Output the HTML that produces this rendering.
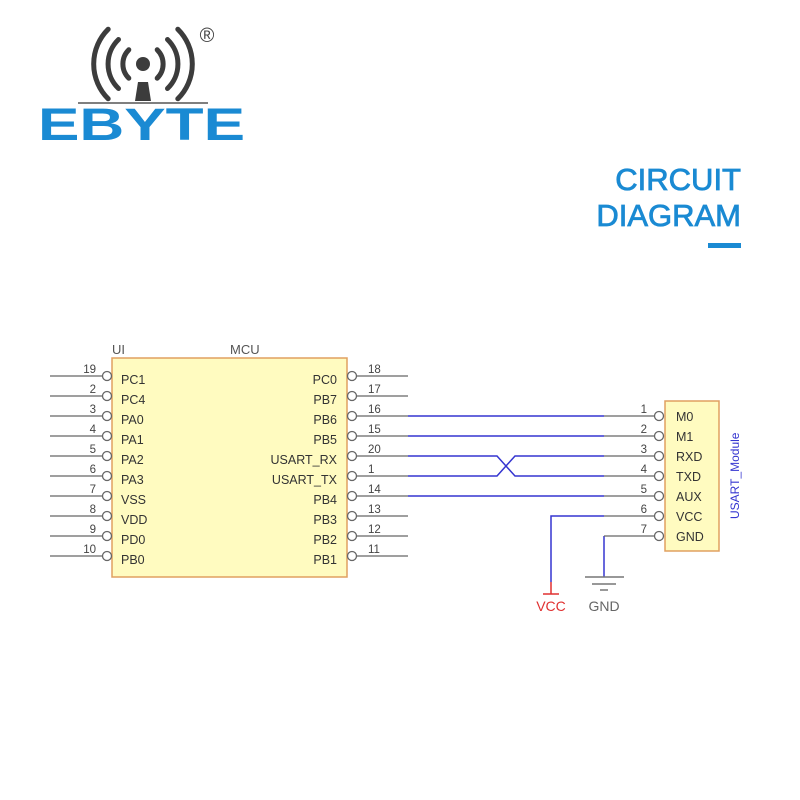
<!DOCTYPE html>
<html><head><meta charset="utf-8"><style>
html,body{margin:0;padding:0;background:#fff;}
svg{display:block;}
</style></head><body>
<svg width="800" height="800" viewBox="0 0 800 800" xmlns="http://www.w3.org/2000/svg" font-family="Liberation Sans, sans-serif">
<!-- Logo -->
<g fill="none" stroke="#3c3c3c" stroke-width="5" stroke-linecap="round">
<path d="M128.8 49.8 A20 20 0 0 0 128.8 78.2"/>
<path d="M157.2 49.8 A20 20 0 0 1 157.2 78.2"/>
<path d="M118.5 39.5 A34 34 0 0 0 118.5 88.5"/>
<path d="M167.5 39.5 A34 34 0 0 1 167.5 88.5"/>
<path d="M108.2 29.2 A49 49 0 0 0 108.2 98.8"/>
<path d="M177.8 29.2 A49 49 0 0 1 177.8 98.8"/>
</g>
<circle cx="143" cy="64" r="7" fill="#3c3c3c"/>
<polygon points="138,82 148,82 151,101 135,101" fill="#3c3c3c"/>
<line x1="78" y1="103" x2="208" y2="103" stroke="#555" stroke-width="1.5"/>
<text x="207" y="42" font-size="20" fill="#444" text-anchor="middle">®</text>
<text x="38" y="140" font-size="45" font-weight="bold" fill="#1a8ad3" textLength="207" lengthAdjust="spacingAndGlyphs">EBYTE</text>
<!-- Title -->
<g fill="#1a8ad3" stroke="#1a8ad3" stroke-width="0.8">
<text x="741" y="190" font-size="31" text-anchor="end">CIRCUIT</text>
<text x="741" y="226" font-size="31" text-anchor="end">DIAGRAM</text>
</g>
<rect x="708" y="243" width="33" height="5" fill="#1a8ad3"/>

<!-- MCU -->
<text x="112" y="354" font-size="13" fill="#555">UI</text>
<text x="230" y="354" font-size="13" fill="#555">MCU</text>
<rect x="112" y="358" width="235" height="219" fill="#fffbc0" stroke="#e0a060" stroke-width="1.5"/>
<g font-size="12" fill="#333">
<g stroke="#666" stroke-width="1.3">
<line x1="50" y1="376" x2="102" y2="376"/><line x1="50" y1="396" x2="102" y2="396"/>
<line x1="50" y1="416" x2="102" y2="416"/><line x1="50" y1="436" x2="102" y2="436"/>
<line x1="50" y1="456" x2="102" y2="456"/><line x1="50" y1="476" x2="102" y2="476"/>
<line x1="50" y1="496" x2="102" y2="496"/><line x1="50" y1="516" x2="102" y2="516"/>
<line x1="50" y1="536" x2="102" y2="536"/><line x1="50" y1="556" x2="102" y2="556"/>
<line x1="357" y1="376" x2="408" y2="376"/><line x1="357" y1="396" x2="408" y2="396"/>
<line x1="357" y1="416" x2="408" y2="416"/><line x1="357" y1="436" x2="408" y2="436"/>
<line x1="357" y1="456" x2="408" y2="456"/><line x1="357" y1="476" x2="408" y2="476"/>
<line x1="357" y1="496" x2="408" y2="496"/><line x1="357" y1="516" x2="408" y2="516"/>
<line x1="357" y1="536" x2="408" y2="536"/><line x1="357" y1="556" x2="408" y2="556"/>
</g>
<g stroke="#666" stroke-width="1.3" fill="#fff">
<circle cx="107" cy="376" r="4.5"/><circle cx="107" cy="396" r="4.5"/><circle cx="107" cy="416" r="4.5"/><circle cx="107" cy="436" r="4.5"/><circle cx="107" cy="456" r="4.5"/><circle cx="107" cy="476" r="4.5"/><circle cx="107" cy="496" r="4.5"/><circle cx="107" cy="516" r="4.5"/><circle cx="107" cy="536" r="4.5"/><circle cx="107" cy="556" r="4.5"/>
<circle cx="352" cy="376" r="4.5"/><circle cx="352" cy="396" r="4.5"/><circle cx="352" cy="416" r="4.5"/><circle cx="352" cy="436" r="4.5"/><circle cx="352" cy="456" r="4.5"/><circle cx="352" cy="476" r="4.5"/><circle cx="352" cy="496" r="4.5"/><circle cx="352" cy="516" r="4.5"/><circle cx="352" cy="536" r="4.5"/><circle cx="352" cy="556" r="4.5"/>
</g>
<g text-anchor="end" fill="#444" font-size="11.5">
<text x="96" y="373">19</text><text x="96" y="393">2</text><text x="96" y="413">3</text><text x="96" y="433">4</text><text x="96" y="453">5</text><text x="96" y="473">6</text><text x="96" y="493">7</text><text x="96" y="513">8</text><text x="96" y="533">9</text><text x="96" y="553">10</text>
</g>
<g fill="#444" font-size="11.5">
<text x="368" y="373">18</text><text x="368" y="393">17</text><text x="368" y="413">16</text><text x="368" y="433">15</text><text x="368" y="453">20</text><text x="368" y="473">1</text><text x="368" y="493">14</text><text x="368" y="513">13</text><text x="368" y="533">12</text><text x="368" y="553">11</text>
</g>
<g fill="#333" font-size="12.5">
<text x="121" y="384">PC1</text><text x="121" y="404">PC4</text><text x="121" y="424">PA0</text><text x="121" y="444">PA1</text><text x="121" y="464">PA2</text><text x="121" y="484">PA3</text><text x="121" y="504">VSS</text><text x="121" y="524">VDD</text><text x="121" y="544">PD0</text><text x="121" y="564">PB0</text>
</g>
<g fill="#333" font-size="12.5" text-anchor="end">
<text x="337" y="384">PC0</text><text x="337" y="404">PB7</text><text x="337" y="424">PB6</text><text x="337" y="444">PB5</text><text x="337" y="464">USART_RX</text><text x="337" y="484">USART_TX</text><text x="337" y="504">PB4</text><text x="337" y="524">PB3</text><text x="337" y="544">PB2</text><text x="337" y="564">PB1</text>
</g>
</g>

<!-- Blue nets -->
<g stroke="#3535d0" stroke-width="1.5" fill="none">
<line x1="408" y1="416" x2="604" y2="416"/>
<line x1="408" y1="436" x2="604" y2="436"/>
<polyline points="408,456 497,456 515,476 604,476"/>
<polyline points="408,476 497,476 515,456 604,456"/>
<line x1="408" y1="496" x2="604" y2="496"/>
<polyline points="604,516 551,516 551,582"/>
<line x1="604" y1="536" x2="604" y2="577"/>
</g>
<g stroke="#e03030" stroke-width="1.5">
<line x1="551" y1="582" x2="551" y2="594"/>
<line x1="543" y1="594" x2="559" y2="594"/>
</g>
<g stroke="#777" stroke-width="1.5">
<line x1="585" y1="577" x2="624" y2="577"/>
<line x1="592" y1="584" x2="616" y2="584"/>
<line x1="600" y1="590" x2="608" y2="590"/>
</g>
<text x="551" y="611" font-size="14" fill="#e03030" text-anchor="middle">VCC</text>
<text x="604" y="611" font-size="14" fill="#666" text-anchor="middle">GND</text>

<!-- Module -->
<rect x="665" y="401" width="54" height="150" fill="#fffbc0" stroke="#e0a060" stroke-width="1.5"/>
<g stroke="#666" stroke-width="1.3">
<line x1="604" y1="416" x2="654" y2="416"/><line x1="604" y1="436" x2="654" y2="436"/><line x1="604" y1="456" x2="654" y2="456"/><line x1="604" y1="476" x2="654" y2="476"/><line x1="604" y1="496" x2="654" y2="496"/><line x1="604" y1="516" x2="654" y2="516"/><line x1="604" y1="536" x2="654" y2="536"/>
</g>
<g stroke="#666" stroke-width="1.3" fill="#fff">
<circle cx="659" cy="416" r="4.5"/><circle cx="659" cy="436" r="4.5"/><circle cx="659" cy="456" r="4.5"/><circle cx="659" cy="476" r="4.5"/><circle cx="659" cy="496" r="4.5"/><circle cx="659" cy="516" r="4.5"/><circle cx="659" cy="536" r="4.5"/>
</g>
<g fill="#444" font-size="11.5" text-anchor="end">
<text x="647" y="413">1</text><text x="647" y="433">2</text><text x="647" y="453">3</text><text x="647" y="473">4</text><text x="647" y="493">5</text><text x="647" y="513">6</text><text x="647" y="533">7</text>
</g>
<g fill="#333" font-size="12.5">
<text x="676" y="421">M0</text><text x="676" y="441">M1</text><text x="676" y="461">RXD</text><text x="676" y="481">TXD</text><text x="676" y="501">AUX</text><text x="676" y="521">VCC</text><text x="676" y="541">GND</text>
</g>
<text transform="translate(739,519) rotate(-90)" font-size="12" fill="#3535d0">USART_Module</text>
</svg>
</body></html>
